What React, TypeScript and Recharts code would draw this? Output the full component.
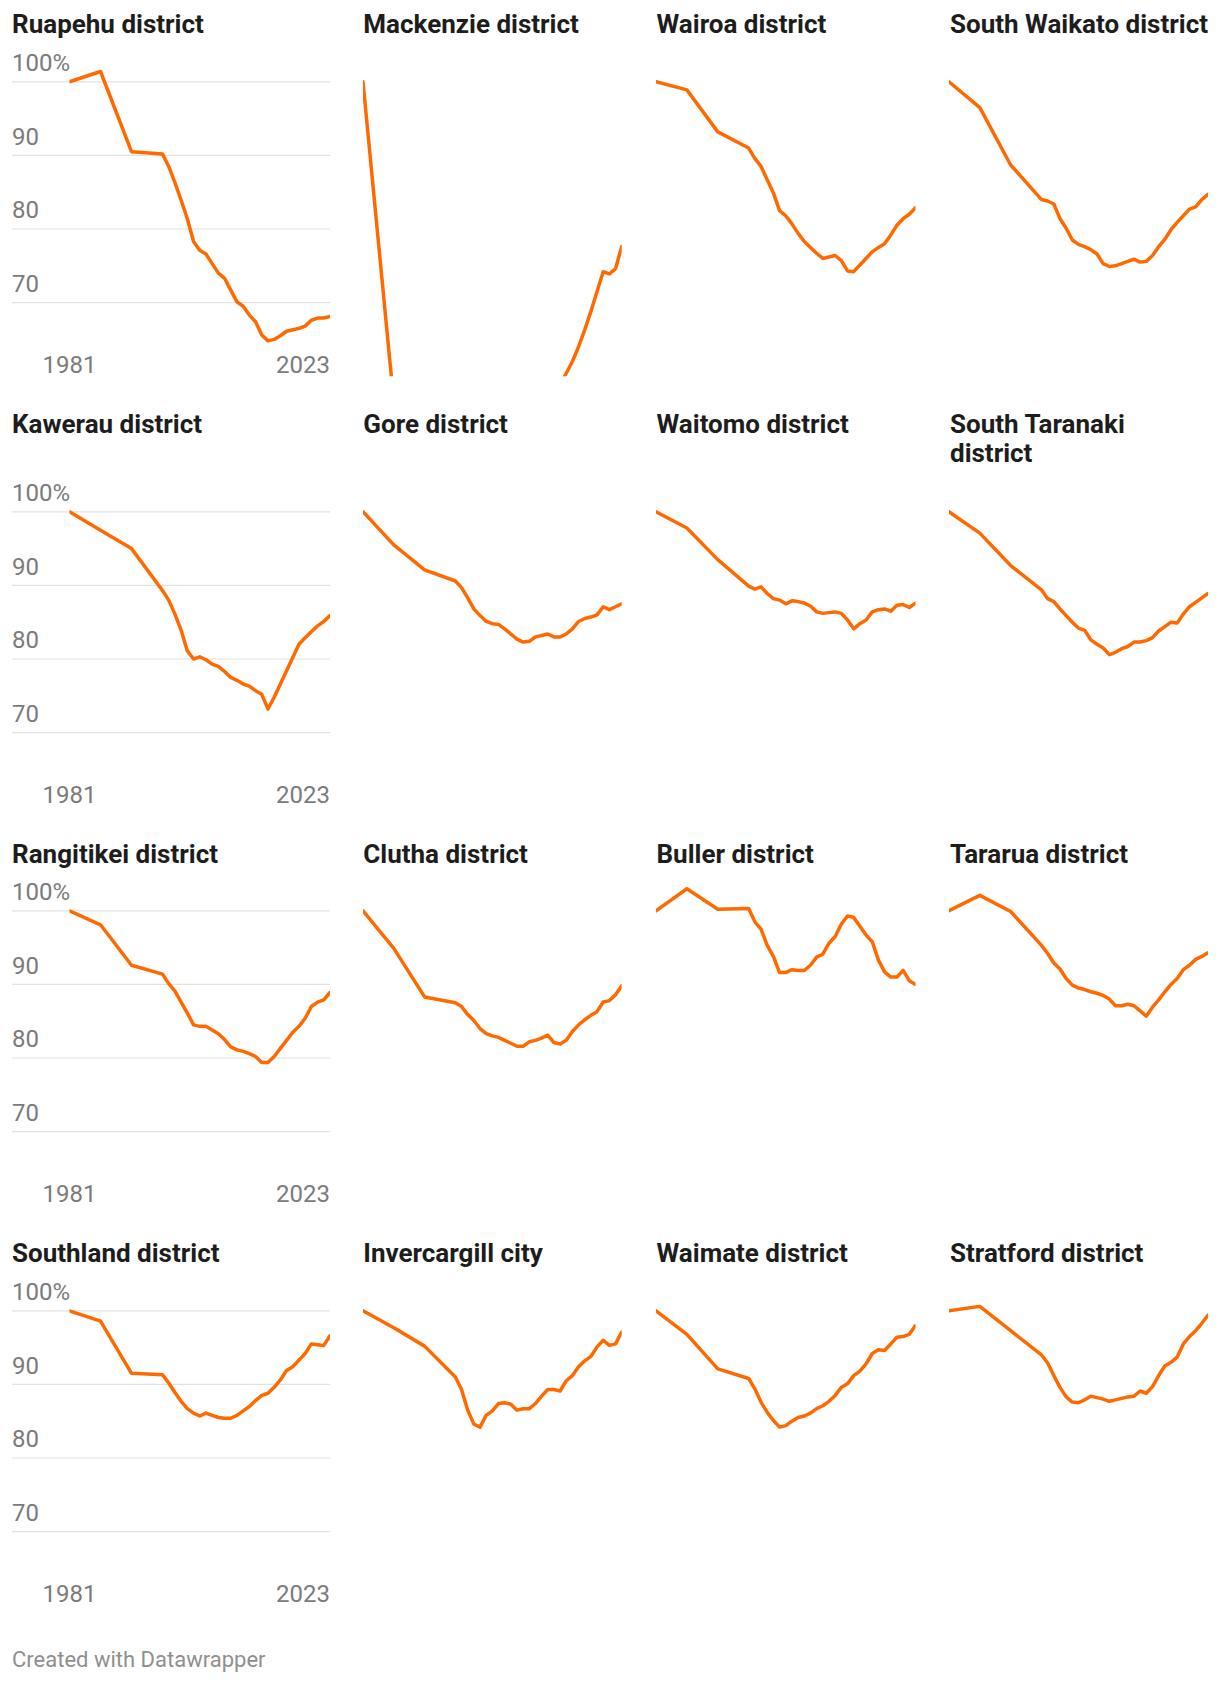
import React from 'react';
import { LineChart, Line, XAxis, YAxis, CartesianGrid } from 'recharts';

// ---------- DATA ----------
const years = [1981, 1986, 1991, 1996, 1997, 1998, 1999, 2000, 2001, 2002, 2003, 2004, 2005, 2006, 2007, 2008, 2009, 2010, 2011, 2012, 2013, 2014, 2015, 2016, 2017, 2018, 2019, 2020, 2021, 2022, 2023];

const ruapehu = [100, 101.4, 90.5, 90.2, 88.5, 86.3, 83.9, 81.4, 78.3, 77.1, 76.6, 75.3, 74.0, 73.3, 71.7, 70.1, 69.5, 68.3, 67.4, 65.6, 64.8, 65.0, 65.5, 66.1, 66.3, 66.5, 66.8, 67.6, 67.9, 67.9, 68.1];
const mackenzie = [100, 56.5, 53, 52, 51.5, 51, 50.5, 50, 50.5, 51, 52, 53, 53.5, 54, 55, 55.5, 56, 56.5, 57, 57.5, 58.8, 60.4, 62.0, 64.0, 66.3, 68.8, 71.5, 74.2, 73.9, 74.6, 77.6];
const wairoa = [100, 98.9, 93.2, 91.0, 89.6, 88.5, 86.7, 84.9, 82.5, 81.8, 80.7, 79.4, 78.3, 77.5, 76.7, 76.0, 76.2, 76.4, 75.7, 74.3, 74.2, 75.1, 76.0, 76.9, 77.5, 78.0, 79.2, 80.5, 81.4, 82.0, 82.9];
const southWaikato = [100, 96.5, 88.7, 84.0, 83.8, 83.4, 81.4, 80.1, 78.5, 77.9, 77.6, 77.2, 76.6, 75.3, 74.9, 75.0, 75.3, 75.6, 75.9, 75.5, 75.6, 76.4, 77.6, 78.6, 79.9, 80.9, 81.8, 82.7, 83.0, 84.0, 84.7];
const kawerau = [100, 97.5, 95.0, 89.3, 88.0, 86.1, 83.9, 81.1, 80.0, 80.3, 79.9, 79.3, 79.0, 78.3, 77.5, 77.1, 76.6, 76.3, 75.7, 75.2, 73.2, 74.8, 76.6, 78.4, 80.2, 82.0, 82.9, 83.7, 84.5, 85.1, 85.9];
const gore = [100, 95.5, 92.1, 90.6, 89.7, 88.3, 86.8, 85.9, 85.1, 84.8, 84.7, 84.1, 83.4, 82.7, 82.3, 82.4, 83.0, 83.2, 83.4, 83.0, 83.0, 83.4, 84.1, 85.1, 85.5, 85.7, 86.0, 87.1, 86.7, 87.1, 87.5];
const waitomo = [100, 97.8, 93.5, 89.9, 89.5, 89.8, 88.9, 88.2, 88.0, 87.5, 87.9, 87.8, 87.6, 87.2, 86.4, 86.2, 86.3, 86.4, 86.2, 85.3, 84.1, 84.8, 85.3, 86.4, 86.7, 86.8, 86.5, 87.3, 87.4, 87.0, 87.6];
const southTaranaki = [100, 97.1, 92.7, 89.4, 88.2, 87.8, 86.8, 85.9, 85.0, 84.2, 83.9, 82.6, 82.0, 81.5, 80.6, 80.9, 81.4, 81.7, 82.3, 82.3, 82.5, 82.9, 83.8, 84.4, 85.0, 84.9, 86.1, 87.1, 87.7, 88.3, 88.9];
const rangitikei = [100, 98.1, 92.6, 91.4, 90.1, 89.1, 87.6, 86.1, 84.5, 84.3, 84.3, 83.8, 83.3, 82.5, 81.5, 81.1, 80.9, 80.6, 80.2, 79.4, 79.4, 80.2, 81.3, 82.4, 83.5, 84.3, 85.4, 87.0, 87.6, 87.9, 88.9];
const clutha = [100, 94.9, 88.3, 87.5, 87.0, 85.9, 85.1, 84.0, 83.3, 83.0, 82.8, 82.4, 82.0, 81.6, 81.6, 82.2, 82.4, 82.7, 83.1, 82.1, 81.9, 82.4, 83.6, 84.5, 85.2, 85.8, 86.3, 87.6, 87.8, 88.6, 89.8];
const buller = [100, 103.0, 100.2, 100.3, 98.5, 97.5, 95.3, 93.8, 91.6, 91.6, 92.0, 91.9, 91.9, 92.6, 93.7, 94.1, 95.6, 96.5, 98.2, 99.3, 99.1, 97.9, 96.7, 95.8, 93.3, 91.7, 91.0, 91.0, 91.9, 90.5, 90.0];
const tararua = [100, 102.1, 99.9, 95.3, 94.2, 92.9, 92.1, 90.8, 89.9, 89.5, 89.3, 89.0, 88.8, 88.5, 88.0, 87.1, 87.1, 87.3, 87.1, 86.4, 85.7, 86.9, 87.9, 89.0, 90.0, 90.8, 92.0, 92.6, 93.4, 93.8, 94.3];
const southland = [100, 98.6, 91.5, 91.3, 90.2, 88.9, 87.7, 86.7, 86.1, 85.7, 86.1, 85.8, 85.5, 85.4, 85.4, 85.8, 86.4, 87.0, 87.8, 88.5, 88.8, 89.6, 90.6, 91.9, 92.4, 93.3, 94.2, 95.5, 95.4, 95.3, 96.6];
const invercargill = [100, 97.7, 95.2, 91.0, 89.3, 86.5, 84.6, 84.2, 85.8, 86.4, 87.4, 87.5, 87.3, 86.5, 86.7, 86.7, 87.4, 88.4, 89.3, 89.3, 89.1, 90.5, 91.2, 92.4, 93.2, 93.8, 95.1, 96.0, 95.3, 95.5, 97.1];
const waimate = [100, 96.8, 92.1, 90.8, 89.4, 87.6, 86.2, 85.1, 84.2, 84.4, 85.0, 85.5, 85.7, 86.1, 86.7, 87.1, 87.7, 88.5, 89.6, 90.1, 91.2, 91.8, 92.8, 94.2, 94.7, 94.6, 95.5, 96.4, 96.5, 96.8, 98.0];
const stratford = [100, 100.6, 97.3, 94.0, 92.9, 91.2, 89.6, 88.3, 87.6, 87.5, 87.9, 88.4, 88.2, 88.0, 87.7, 87.9, 88.1, 88.3, 88.4, 89.1, 88.8, 89.7, 91.2, 92.5, 93.0, 93.7, 95.5, 96.5, 97.3, 98.3, 99.4];

const names = [
  'Ruapehu district', 'Mackenzie district', 'Wairoa district', 'South Waikato district',
  'Kawerau district', 'Gore district', 'Waitomo district', 'South Taranaki\ndistrict',
  'Rangitikei district', 'Clutha district', 'Buller district', 'Tararua district',
  'Southland district', 'Invercargill city', 'Waimate district', 'Stratford district',
];
const seriesList = [
  ruapehu, mackenzie, wairoa, southWaikato,
  kawerau, gore, waitomo, southTaranaki,
  rangitikei, clutha, buller, tararua,
  southland, invercargill, waimate, stratford,
];

const yTicks = [70, 80, 90, 100];
const xTicks = [1981, 2023];
const xDomain = [1981, 2023];
const yDomain = [60, 105];
const creditText = 'Created with Datawrapper';

// ---------- LAYOUT / STYLE ----------
const FONT = 'Roboto, "Noto Sans", Arial, sans-serif';
const ORANGE = '#fe6a00';
const GRID = '#e2e2e2';
const LABEL = '#7b7b7b';

const GRID_LEFT = [12, 363.3, 656, 949];
const PLOT_RIGHT = [330, 622, 915.5, 1208];
const TITLE_LEFT = [12, 363.3, 656.5, 950];
const DATA_PAD_LEFT = [57.5, 0, 0, 0];
const ROW_Y100 = [81.7, 511.7, 910.7, 1310.3];
const TITLE_BASELINE = [33, 433.3, 863.3, 1261.7];
const PX = 7.36;
const TITLE_SIZE = 26;
const TITLE_LH = 28.4;
const X_AXIS_H = 30;
const TICK_SIZE = 24;

function YTick(props: any) {
  const { x, y, payload } = props;
  return (
    <text x={x} y={y - 10.7} fill={LABEL} fontSize={TICK_SIZE} fontFamily={FONT} textAnchor="start">
      {payload.value === 100 ? '100%' : String(payload.value)}
    </text>
  );
}

function XTick(props: any) {
  const { x, y, payload } = props;
  return (
    <text x={x} y={y - 3} fill={LABEL} fontSize={TICK_SIZE} fontFamily={FONT} textAnchor={payload.value === xTicks[0] ? 'middle' : 'end'}>
      {String(payload.value)}
    </text>
  );
}

function Panel({ name, values, row, col }: { name: string; values: number[]; row: number; col: number }) {
  const y100 = ROW_Y100[row];
  const top = y100 - (yDomain[1] - 100) * PX;
  const plotH = (yDomain[1] - yDomain[0]) * PX;
  const left = GRID_LEFT[col];
  const width = PLOT_RIGHT[col] - left;
  const data = years.map((yr, i) => ({ year: yr, value: values[i] }));
  const labels = col === 0;
  const titleOffset = (TITLE_LH - 1.172 * TITLE_SIZE) / 2 + 0.928 * TITLE_SIZE;
  return (
    <>
      <div
        style={{
          position: 'absolute',
          left: TITLE_LEFT[col],
          top: TITLE_BASELINE[row] - titleOffset,
          fontFamily: FONT,
          fontWeight: 700,
          fontSize: TITLE_SIZE,
          lineHeight: `${TITLE_LH}px`,
          color: '#1d1d1d',
          whiteSpace: 'pre-line',
        }}
      >
        {name}
      </div>
      <div style={{ position: 'absolute', left, top, width, height: plotH + X_AXIS_H }}>
        <LineChart width={width} height={plotH + X_AXIS_H} data={data} margin={{ top: 0, right: 0, bottom: 0, left: 0 }}>
          <CartesianGrid horizontal={true} vertical={false} horizontalValues={yTicks} stroke={GRID} strokeWidth={1.2} />
          <XAxis
            dataKey="year"
            type="number"
            domain={xDomain}
            ticks={xTicks}
            allowDataOverflow={true}
            padding={{ left: DATA_PAD_LEFT[col], right: 0 }}
            height={X_AXIS_H}
            axisLine={false}
            tickLine={false}
            tickSize={0}
            tickMargin={0}
            interval={0}
            tick={labels ? <XTick /> : false}
          />
          <YAxis
            type="number"
            domain={yDomain}
            ticks={yTicks}
            allowDataOverflow={true}
            mirror={true}
            width={60}
            axisLine={false}
            tickLine={false}
            tickSize={0}
            tickMargin={0}
            interval={0}
            tick={labels ? <YTick /> : false}
          />
          <Line
            type="linear"
            dataKey="value"
            stroke={ORANGE}
            strokeWidth={3.5}
            strokeLinejoin="round"
            strokeLinecap="round"
            dot={false}
            activeDot={false}
            isAnimationActive={false}
          />
        </LineChart>
      </div>
    </>
  );
}

export default function App() {
  return (
    <div style={{ position: 'absolute', left: 0, top: 0, width: 1220, height: 1686, background: '#ffffff', overflow: 'hidden' }}>
      {names.map((n, i) => (
        <Panel key={n} name={n} values={seriesList[i]} row={Math.floor(i / 4)} col={i % 4} />
      ))}
      <div
        style={{
          position: 'absolute',
          left: 12,
          top: 1666.7 - ((25 - 1.172 * 22) / 2 + 0.928 * 22),
          fontFamily: FONT,
          fontSize: 22,
          lineHeight: '25px',
          color: '#8f8f8f',
        }}
      >
        {creditText}
      </div>
    </div>
  );
}
